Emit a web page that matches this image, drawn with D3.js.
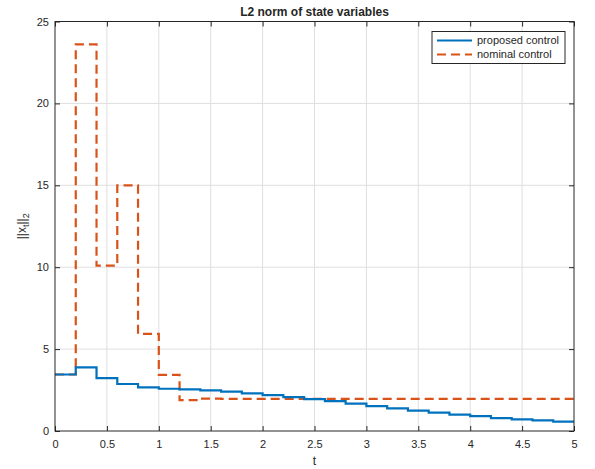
<!DOCTYPE html>
<html lang="en">
<head>
<meta charset="UTF-8" />
<title>L2 norm of state variables</title>
<script src="https://d3js.org/d3.v7.min.js"></script>
<style>
  body { margin: 0; background: #fff; }
  text { font-family: "Liberation Sans", Arial, sans-serif; fill: #262626; }
</style>
</head>
<body>
<div id="chart"></div>
<script>
// sample times (stairs, step 0.2)
var t = [0, 0.2, 0.4, 0.6, 0.8, 1, 1.2, 1.4, 1.6, 1.8, 2, 2.2, 2.4, 2.6, 2.8, 3,
         3.2, 3.4, 3.6, 3.8, 4, 4.2, 4.4, 4.6, 4.8, 5]
var proposed = [3.45, 3.88, 3.23, 2.87, 2.66, 2.58, 2.54, 2.48, 2.40, 2.30, 2.19, 2.07, 1.95,
                1.83, 1.67, 1.52, 1.38, 1.24, 1.12, 1.00, 0.91, 0.79, 0.71, 0.65, 0.57, 0.57]
var nominal = [3.45, 23.6, 10.1, 15.0, 5.93, 3.43, 1.88, 1.98, 1.96, 1.96, 1.96, 1.96, 1.96,
               1.96, 1.96, 1.96, 1.96, 1.96, 1.96, 1.96, 1.96, 1.96, 1.96, 1.96, 1.96, 1.96]
var xTicks = [0, 0.5, 1, 1.5, 2, 2.5, 3, 3.5, 4, 4.5, 5]
var yTicks = [0, 5, 10, 15, 20, 25]
var seriesNames = ["proposed control", "nominal control"]

var width = 595, height = 469
var margin = {top: 21.5, right: 21, bottom: 38, left: 55}
var w = width - margin.left - margin.right
var h = height - margin.top - margin.bottom

var svg = d3.select("#chart").append("svg")
    .attr("width", width)
    .attr("height", height)

var g = svg.append("g")
    .attr("transform", "translate(" + margin.left + "," + margin.top + ")")

var x = d3.scaleLinear().domain([0, 5]).range([0, w])
var y = d3.scaleLinear().domain([0, 25]).range([h, 0])

// grid
g.append("g").selectAll("line").data(xTicks.slice(1, -1)).enter().append("line")
    .attr("x1", d => x(d)).attr("x2", d => x(d))
    .attr("y1", 0).attr("y2", h)
    .attr("stroke", "#dfdfdf")
g.append("g").selectAll("line").data(yTicks.slice(1, -1)).enter().append("line")
    .attr("y1", d => y(d)).attr("y2", d => y(d))
    .attr("x1", 0).attr("x2", w)
    .attr("stroke", "#dfdfdf")

// lines
var line = d3.line()
    .x((d, i) => x(t[i]))
    .y(d => y(d))
    .curve(d3.curveStepAfter)

g.append("path").datum(nominal)
    .attr("d", line)
    .attr("fill", "none")
    .attr("stroke", "#D95319")
    .attr("stroke-width", 2.2)
    .attr("stroke-dasharray", "9,5")

g.append("path").datum(proposed)
    .attr("d", line)
    .attr("fill", "none")
    .attr("stroke", "#0072BD")
    .attr("stroke-width", 2.2)

// axes (ticks inward, on all sides)
var axisColor = "#262626"
function styleAxis(sel) {
  sel.select(".domain").remove()
  sel.selectAll("line").attr("stroke", axisColor)
  sel.selectAll("text").style("font-size", "11px").attr("fill", axisColor)
}
g.append("g").attr("transform", "translate(0," + h + ")")
    .call(d3.axisBottom(x).tickValues(xTicks).tickFormat(d3.format("")).tickSizeInner(-5).tickPadding(9))
    .call(styleAxis)
g.append("g")
    .call(d3.axisTop(x).tickValues(xTicks).tickFormat("").tickSizeInner(-5))
    .call(styleAxis)
g.append("g")
    .call(d3.axisLeft(y).tickValues(yTicks).tickSizeInner(-5).tickPadding(6))
    .call(styleAxis)
g.append("g").attr("transform", "translate(" + w + ",0)")
    .call(d3.axisRight(y).tickValues(yTicks).tickFormat("").tickSizeInner(-5))
    .call(styleAxis)

g.append("rect")
    .attr("width", w).attr("height", h)
    .attr("fill", "none")
    .attr("stroke", axisColor)
    .attr("stroke-width", 1)

// title and labels
svg.append("text")
    .attr("x", margin.left + w / 2).attr("y", 16)
    .attr("text-anchor", "middle")
    .style("font-size", "12px").style("font-weight", "bold")
    .attr("fill", "#000")
    .text("L2 norm of state variables")

svg.append("text")
    .attr("x", margin.left + w / 2).attr("y", 465)
    .attr("text-anchor", "middle")
    .style("font-size", "12px")
    .text("t")

var yl = svg.append("text")
    .attr("transform", "translate(26," + (margin.top + h / 2) + ") rotate(-90)")
    .attr("text-anchor", "middle")
    .style("font-size", "12px")
yl.append("tspan").text("||x")
yl.append("tspan").attr("dy", 3).style("font-size", "9px").text("t")
yl.append("tspan").attr("dy", -3).text("||")
yl.append("tspan").attr("dy", 3).style("font-size", "9px").text("2")

// legend
var lg = g.append("g").attr("transform", "translate(" + (w - 142) + ",10)")
lg.append("rect")
    .attr("width", 133).attr("height", 32)
    .attr("fill", "#fff")
    .attr("stroke", axisColor)
var legendColors = ["#0072BD", "#D95319"]
var legendDash = [null, "9,5"]
seriesNames.forEach(function(name, i) {
  var yy = 9 + i * 14
  lg.append("line")
      .attr("x1", 5).attr("x2", 40)
      .attr("y1", yy).attr("y2", yy)
      .attr("stroke", legendColors[i])
      .attr("stroke-width", 2.2)
      .attr("stroke-dasharray", legendDash[i])
  lg.append("text")
      .attr("x", 45).attr("y", yy + 3.5)
      .style("font-size", "11px")
      .text(name)
})
</script>
</body>
</html>
